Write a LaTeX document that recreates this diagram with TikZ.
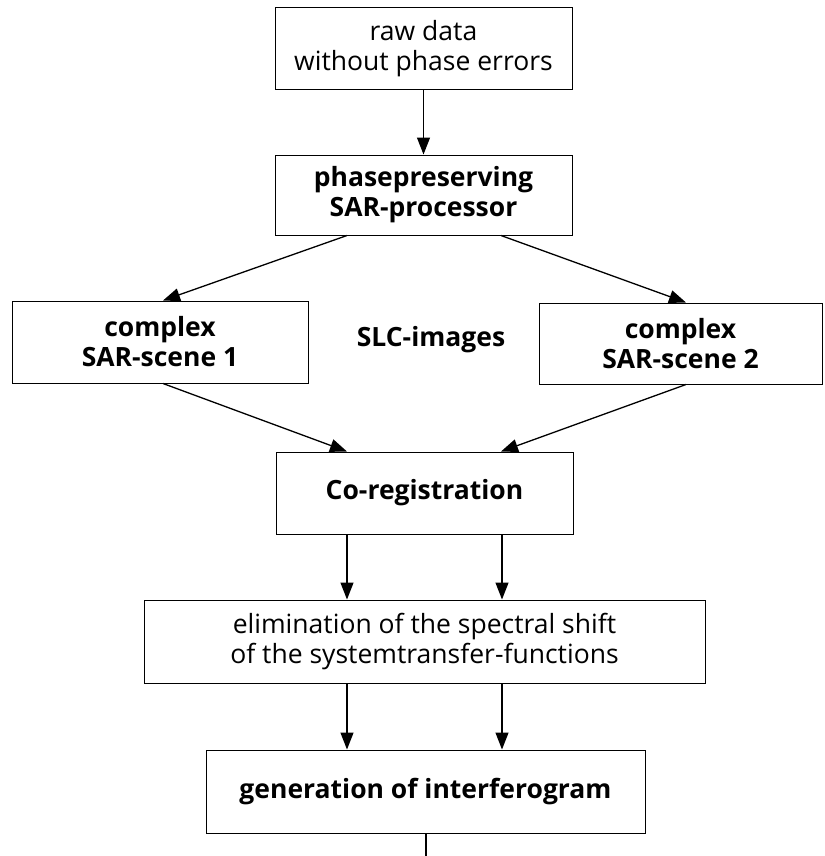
\documentclass[tikz,border=0pt]{standalone}
\usepackage{fontspec}
\setmainfont{Open Sans}
\usetikzlibrary{arrows.meta,calc}
\tikzset{
  box/.style={draw, line width=1pt, rectangle, align=center, inner sep=0pt,
    font=\fontsize{26.5}{30}\selectfont},
  bbox/.style={box, font=\fontsize{26.5}{30}\selectfont\bfseries},
  conn/.style={line width=1.3pt, -{Triangle[length=17pt,width=13pt]}},
}
\begin{document}
\begin{tikzpicture}[x=1pt,y=-1pt]
\useasboundingbox (0,0) rectangle (824,856);
\node[box, minimum width=297pt, minimum height=82pt] (raw) at (423.5,49) {raw data\\without phase errors};
\node[bbox, minimum width=297pt, minimum height=80pt] (proc) at (423.5,195) {phasepreserving\\SAR-processor};
\node[bbox, minimum width=296pt, minimum height=82pt] (s1) at (160,342) {complex\\SAR-scene 1};
\node[bbox, minimum width=283pt, minimum height=81pt] (s2) at (680.5,343.5) {complex\\SAR-scene 2};
\node[font=\fontsize{26.5}{30}\selectfont\bfseries] (slc) at (431,340) {SLC-images};
\node[bbox, minimum width=297pt, minimum height=82pt] (coreg) at (424.5,493) {Co-registration};
\node[box, minimum width=561pt, minimum height=83pt] (elim) at (424.5,641.5) {elimination of the spectral shift\\of the systemtransfer-functions};
\node[bbox, minimum width=439pt, minimum height=83pt] (gen) at (425.5,791.5) {generation of interferogram};
\coordinate (end) at (426,856);

\draw[conn] (raw.south) -- (proc.north);
\draw[conn] ($(proc.south)+(-76.5,0)$) -- ($(s1.north)+(3,0)$);
\draw[conn] ($(proc.south)+(77.5,0)$) -- ($(s2.north)+(5.5,0)$);
\draw[conn] ($(s1.south)+(3,0)$) -- ($(coreg.north)+(-77.5,0)$);
\draw[conn] ($(s2.south)+(5.5,0)$) -- ($(coreg.north)+(76.5,0)$);
\draw[conn] ($(coreg.south)+(-77.5,0)$) -- ($(elim.north)+(-77.5,0)$);
\draw[conn] ($(coreg.south)+(77.5,0)$) -- ($(elim.north)+(77.5,0)$);
\draw[conn] ($(elim.south)+(-77.5,0)$) -- ($(elim.south |- gen.north)+(-77.5,0)$);
\draw[conn] ($(elim.south)+(77.5,0)$) -- ($(elim.south |- gen.north)+(77.5,0)$);
\draw[line width=1.3pt] (gen.south -| end) -- (end);
\end{tikzpicture}
\end{document}
